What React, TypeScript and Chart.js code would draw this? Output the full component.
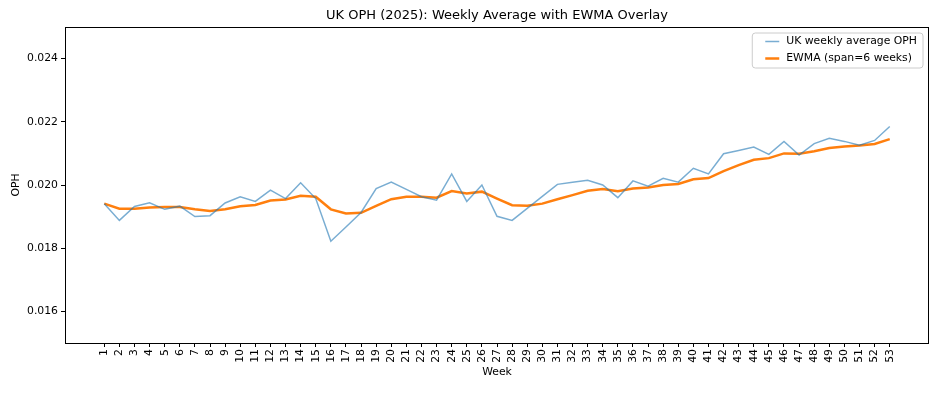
import React, { useEffect, useRef } from "react";
import { Chart, registerables } from "chart.js";

Chart.register(...registerables);

const weeks = [
  1, 2, 3, 4, 5, 6, 7, 8, 9, 10, 11, 12, 13, 14, 15, 16, 17, 18, 19, 20, 21, 22, 23, 24, 25, 26, 27,
  28, 29, 30, 31, 32, 33, 34, 35, 36, 37, 38, 39, 40, 41, 42, 43, 44, 45, 46, 47, 48, 49, 50, 51, 52, 53,
];

const ophWeekly = [
  0.01941, 0.01888, 0.01932, 0.01944, 0.01923, 0.01933, 0.019, 0.01903, 0.01943, 0.01963,
  0.01948, 0.01984, 0.01957, 0.02007, 0.01957, 0.01822, 0.01867, 0.01913, 0.01989, 0.02009,
  0.01986, 0.01963, 0.01952, 0.02035, 0.01948, 0.02, 0.01901, 0.01888, 0.01926, 0.01964,
  0.02002, 0.02009, 0.02015, 0.02, 0.0196, 0.02013, 0.01996, 0.02021, 0.02009, 0.02053,
  0.02035, 0.02099, 0.02109, 0.0212, 0.02097, 0.02138, 0.02095, 0.02131, 0.02148, 0.02138,
  0.02126, 0.02141, 0.02185,
];

const ewma = [
  0.01941, 0.01925, 0.01925, 0.01929, 0.0193, 0.0193, 0.01923, 0.01918, 0.01923, 0.01933,
  0.01937, 0.01951, 0.01954, 0.01966, 0.01963, 0.01923, 0.0191, 0.01912, 0.01934, 0.01955,
  0.01963, 0.01963, 0.0196, 0.01981, 0.01973, 0.01979, 0.01957, 0.01936, 0.01934, 0.01941,
  0.01955, 0.01968, 0.01982, 0.01987, 0.0198, 0.01989, 0.01992, 0.02, 0.02003, 0.02018,
  0.02022, 0.02044, 0.02063, 0.0208, 0.02085, 0.021, 0.02099, 0.02107, 0.02117, 0.02122,
  0.02125, 0.0213, 0.02145,
];

const yTicks = [0.016, 0.018, 0.02, 0.022, 0.024];
const yMin = 0.015;
const yMax = 0.025;

const titleText = "UK OPH (2025): Weekly Average with EWMA Overlay";
const seriesLabels = ["UK weekly average OPH", "EWMA (span=6 weeks)"];

const FONT = '"DejaVu Sans", sans-serif';
const FS = 10.83;

const frameAndLegend = {
  id: "frameAndLegend",
  afterDraw(chart: any) {
    const { ctx, chartArea } = chart;
    ctx.save();
    // title centred over the plot area
    ctx.font = `13px ${FONT}`;
    ctx.fillStyle = "#000";
    ctx.textAlign = "center";
    ctx.textBaseline = "middle";
    ctx.fillText(titleText, (chartArea.left + chartArea.right) / 2, 16);
    // axes frame
    ctx.strokeStyle = "#000";
    ctx.lineWidth = 1;
    ctx.strokeRect(
      Math.round(chartArea.left) + 0.5,
      Math.round(chartArea.top) + 0.5,
      Math.round(chartArea.right - chartArea.left) - 1,
      Math.round(chartArea.bottom - chartArea.top)
    );
    // legend
    ctx.font = `${FS}px ${FONT}`;
    const ds = chart.data.datasets;
    let maxW = 0;
    ds.forEach((d: any) => {
      maxW = Math.max(maxW, ctx.measureText(d.label).width);
    });
    const padL = 13;
    const handle = 14;
    const gap = 7;
    const padR = 6;
    const w = padL + handle + gap + maxW + padR;
    const h = 35;
    const right = chartArea.right - 6;
    const top = chartArea.top + 6;
    const left = right - w;
    const r = 3;
    ctx.beginPath();
    ctx.moveTo(left + r, top);
    ctx.lineTo(right - r, top);
    ctx.quadraticCurveTo(right, top, right, top + r);
    ctx.lineTo(right, top + h - r);
    ctx.quadraticCurveTo(right, top + h, right - r, top + h);
    ctx.lineTo(left + r, top + h);
    ctx.quadraticCurveTo(left, top + h, left, top + h - r);
    ctx.lineTo(left, top + r);
    ctx.quadraticCurveTo(left, top, left + r, top);
    ctx.closePath();
    ctx.fillStyle = "rgba(255,255,255,0.8)";
    ctx.fill();
    ctx.strokeStyle = "#cccccc";
    ctx.lineWidth = 1;
    ctx.stroke();
    ds.forEach((d: any, i: number) => {
      const cy = top + 8.5 + i * 17;
      ctx.beginPath();
      ctx.strokeStyle = d.borderColor;
      ctx.lineWidth = d.borderWidth;
      ctx.moveTo(left + padL, cy);
      ctx.lineTo(left + padL + handle, cy);
      ctx.stroke();
      ctx.fillStyle = "#000";
      ctx.textBaseline = "middle";
      ctx.textAlign = "left";
      ctx.fillText(d.label, left + padL + handle + gap, cy);
    });
    ctx.restore();
  },
};

export default function App() {
  const ref = useRef<HTMLCanvasElement | null>(null);

  useEffect(() => {
    if (!ref.current) return;
    const margin = 0.05 * (weeks[weeks.length - 1] - weeks[0]);
    const chart = new Chart(ref.current, {
      type: "line",
      data: {
        datasets: [
          {
            label: seriesLabels[0],
            data: weeks.map((w, i) => ({ x: w, y: ophWeekly[i] })),
            borderColor: "rgba(31,119,180,0.6)",
            borderWidth: 1.5,
            pointRadius: 0,
            tension: 0,
          },
          {
            label: seriesLabels[1],
            data: weeks.map((w, i) => ({ x: w, y: ewma[i] })),
            borderColor: "#ff7f0e",
            borderWidth: 2.5,
            pointRadius: 0,
            tension: 0,
          },
        ],
      },
      options: {
        responsive: false,
        animation: false,
        layout: { padding: { left: 0, right: 12, top: 27, bottom: 0 } },
        plugins: {
          legend: { display: false },
          tooltip: { enabled: false },
          title: { display: false },
        },
        scales: {
          x: {
            type: "linear",
            min: weeks[0] - margin,
            max: weeks[weeks.length - 1] + margin,
            afterBuildTicks: (s: any) => {
              s.ticks = weeks.map((v) => ({ value: v }));
            },
            afterFit: (s: any) => {
              s.height = 50;
            },
            ticks: {
              autoSkip: false,
              minRotation: 90,
              maxRotation: 90,
              color: "#000",
              padding: 2,
              font: { family: FONT, size: FS },
              callback: (v: any) => String(v),
            },
            grid: {
              drawOnChartArea: false,
              drawTicks: true,
              tickLength: 4,
              color: "#000",
            },
            border: { display: false },
            title: {
              display: true,
              text: "Week",
              color: "#000",
              font: { family: FONT, size: FS },
              padding: { top: 0, bottom: 14 },
            },
          },
          y: {
            min: yMin,
            max: yMax,
            afterBuildTicks: (s: any) => {
              s.ticks = yTicks.map((v) => ({ value: v }));
            },
            afterFit: (s: any) => {
              s.width = 65;
            },
            ticks: {
              color: "#000",
              padding: 3,
              font: { family: FONT, size: FS },
              callback: (v: any) => Number(v).toFixed(3),
            },
            grid: {
              drawOnChartArea: false,
              drawTicks: true,
              tickLength: 4,
              color: "#000",
            },
            border: { display: false },
            title: {
              display: true,
              text: "OPH",
              color: "#000",
              font: { family: FONT, size: FS },
              padding: { top: 10, bottom: 0 },
            },
          },
        },
      },
      plugins: [frameAndLegend],
    } as any);
    return () => chart.destroy();
  }, []);

  return (
    <div style={{ position: "absolute", left: 0, top: 0, width: 941, height: 393, background: "#fff" }}>
      <canvas ref={ref} width={941} height={393} style={{ display: "block" }} />
    </div>
  );
}
